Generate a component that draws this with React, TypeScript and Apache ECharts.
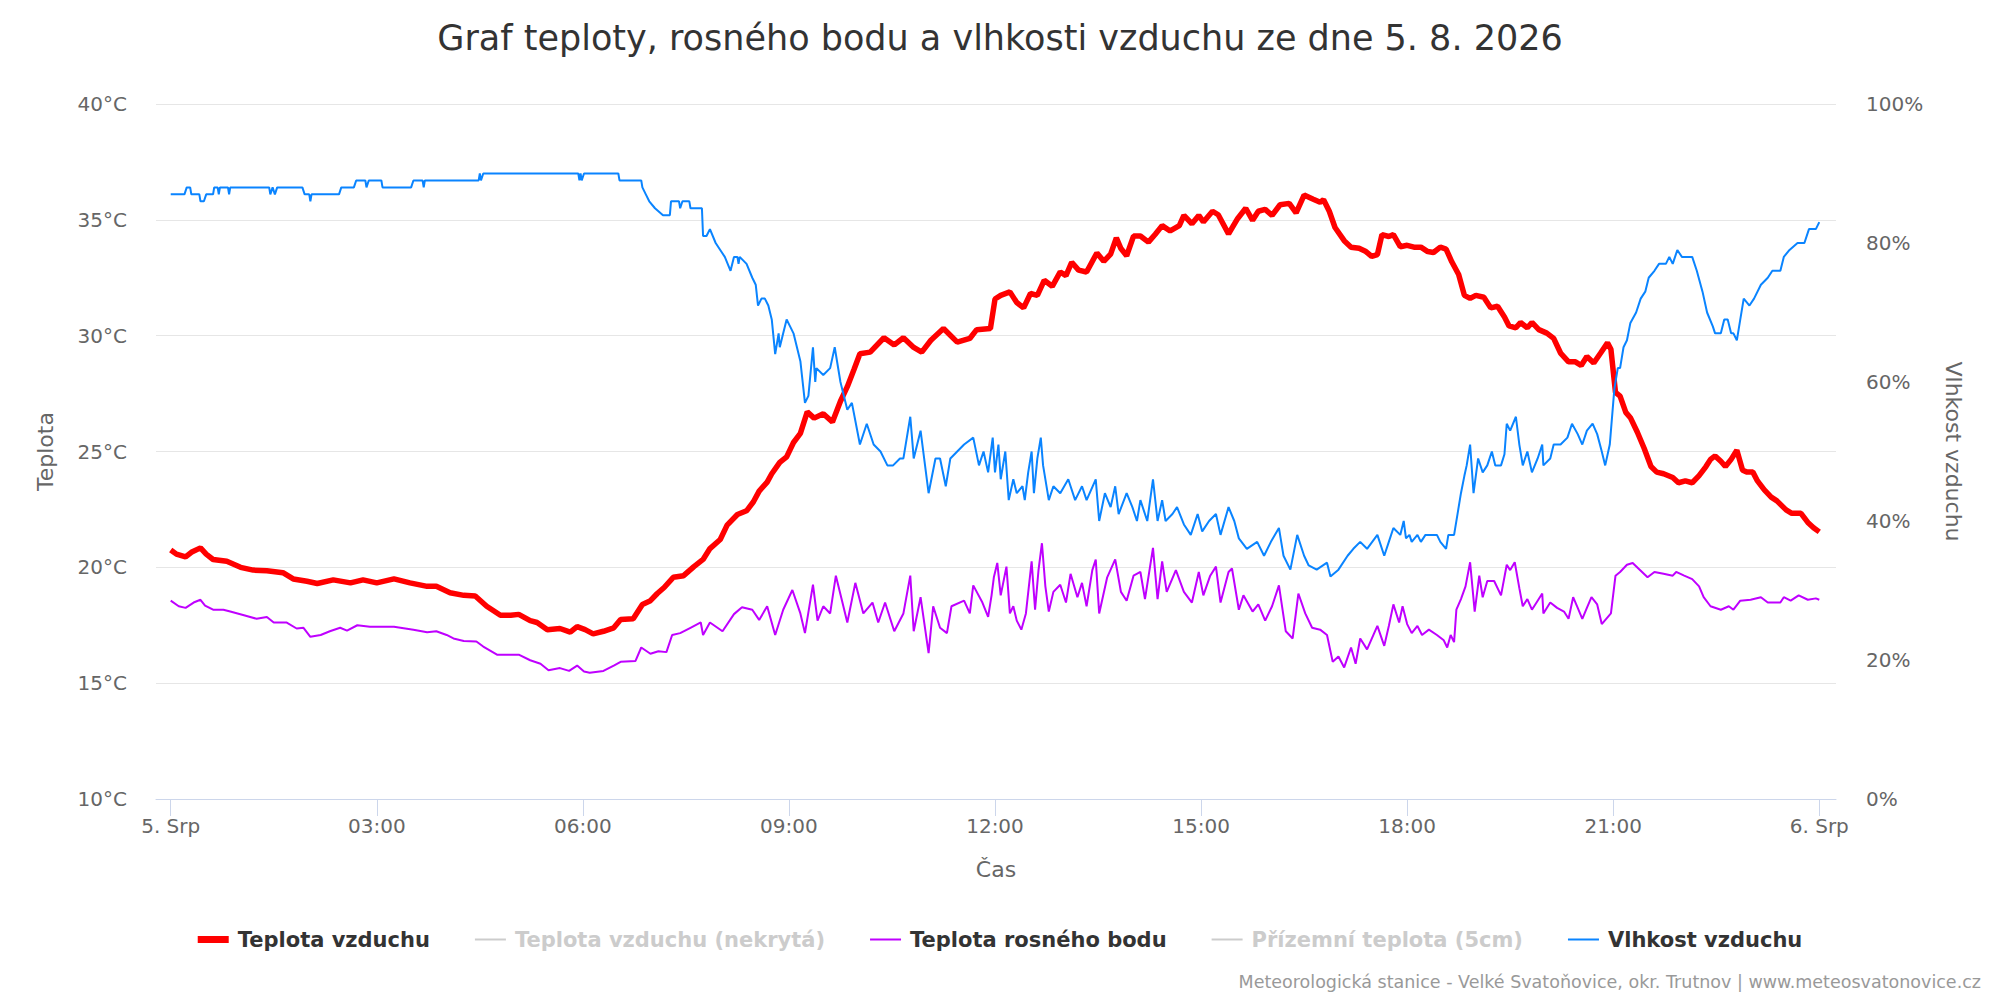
import React, { useEffect, useRef } from "react";
import * as echarts from "echarts";

const titleText = "Graf teploty, rosného bodu a vlhkosti vzduchu ze dne 5. 8. 2026";
const creditsText = "Meteorologická stanice - Velké Svatoňovice, okr. Trutnov | www.meteosvatonovice.cz";

const seriesNames = [
  "Teplota vzduchu",
  "Teplota vzduchu (nekrytá)",
  "Teplota rosného bodu",
  "Přízemní teplota (5cm)",
  "Vlhkost vzduchu",
];

// x values are minutes since 5. 8. 00:00
const xTickValues = [0, 180, 360, 540, 720, 900, 1080, 1260, 1440];
const xTickLabels = ["5. Srp", "03:00", "06:00", "09:00", "12:00", "15:00", "18:00", "21:00", "6. Srp"];

const tempTicks = [10, 15, 20, 25, 30, 35, 40];
const humTicks = [0, 20, 40, 60, 80, 100];

const airTemp: [number, number][] = [
  [0,20.75],[5,20.57],[13,20.45],[18,20.65],[26,20.84],[31,20.57],[37,20.34],[49,20.26],[61,20.0],[72,19.88],[84,19.85],[98,19.77],[107,19.5],[119,19.4],[128,19.3],[142,19.46],[157,19.33],[168,19.46],[180,19.33],[195,19.5],[209,19.33],[224,19.18],[232,19.18],[244,18.9],[256,18.79],[266,18.76],[276,18.32],[288,17.93],[297,17.93],[304,17.97],[314,17.7],[320,17.62],[329,17.31],[340,17.36],[349,17.2],[355,17.44],[362,17.31],[369,17.13],[378,17.24],[387,17.39],[393,17.75],[404,17.78],[412,18.4],[419,18.56],[425,18.87],[431,19.13],[439,19.57],[448,19.64],[457,20.03],[465,20.34],[471,20.81],[480,21.2],[486,21.82],[495,22.28],[503,22.44],[509,22.83],[514,23.29],[521,23.68],[525,24.04],[532,24.53],[538,24.77],[544,25.39],[550,25.78],[556,26.71],[562,26.44],[570,26.63],[578,26.27],[585,27.17],[591,27.8],[597,28.56],[602,29.22],[611,29.29],[623,29.91],[632,29.6],[640,29.91],[649,29.49],[656,29.29],[664,29.8],[675,30.31],[687,29.72],[698,29.88],[704,30.26],[716,30.31],[720,31.58],[725,31.74],[733,31.89],[739,31.43],[745,31.2],[751,31.82],[757,31.74],[763,32.39],[770,32.13],[777,32.75],[782,32.59],[787,33.17],[793,32.83],[800,32.75],[809,33.57],[815,33.21],[821,33.52],[826,34.22],[830,33.76],[835,33.45],[841,34.3],[847,34.3],[854,34.04],[860,34.38],[866,34.75],[873,34.52],[881,34.75],[885,35.19],[892,34.83],[898,35.19],[902,34.91],[910,35.37],[915,35.22],[924,34.39],[932,35.06],[939,35.5],[945,34.98],[950,35.37],[956,35.45],[962,35.19],[969,35.65],[977,35.71],[983,35.3],[990,36.07],[998,35.89],[1004,35.76],[1007,35.87],[1012,35.37],[1017,34.67],[1025,34.1],[1031,33.82],[1038,33.77],[1044,33.63],[1049,33.42],[1054,33.5],[1058,34.36],[1064,34.28],[1068,34.36],[1074,33.84],[1080,33.9],[1086,33.82],[1092,33.82],[1098,33.63],[1103,33.59],[1109,33.82],[1114,33.74],[1119,33.19],[1125,32.64],[1130,31.74],[1135,31.61],[1140,31.74],[1147,31.66],[1153,31.2],[1159,31.27],[1165,30.81],[1169,30.42],[1175,30.34],[1179,30.57],[1185,30.34],[1189,30.57],[1195,30.26],[1202,30.11],[1208,29.88],[1214,29.25],[1221,28.87],[1227,28.87],[1232,28.71],[1237,29.1],[1243,28.82],[1249,29.25],[1255,29.69],[1258,29.41],[1262,27.55],[1266,27.39],[1271,26.69],[1275,26.46],[1281,25.84],[1287,25.14],[1293,24.35],[1298,24.11],[1304,24.04],[1312,23.88],[1317,23.65],[1323,23.73],[1329,23.65],[1335,23.96],[1341,24.35],[1345,24.66],[1349,24.81],[1354,24.58],[1358,24.35],[1363,24.66],[1368,25.05],[1373,24.19],[1377,24.11],[1382,24.11],[1386,23.73],[1392,23.34],[1398,23.03],[1403,22.87],[1411,22.48],[1416,22.33],[1424,22.33],[1430,21.94],[1435,21.71],[1440,21.53],
];

const dewPoint: [number, number][] = [
  [0,18.56],[7,18.32],[13,18.25],[20,18.48],[26,18.6],[30,18.35],[37,18.17],[46,18.17],[52,18.09],[64,17.93],[75,17.78],[84,17.86],[90,17.62],[101,17.62],[110,17.36],[116,17.39],[122,17.0],[131,17.08],[139,17.24],[148,17.39],[154,17.27],[163,17.5],[174,17.44],[195,17.44],[212,17.31],[224,17.2],[232,17.24],[241,17.08],[247,16.93],[256,16.82],[267,16.8],[273,16.58],[285,16.23],[297,16.23],[304,16.23],[314,15.99],[323,15.84],[330,15.56],[340,15.65],[348,15.53],[355,15.76],[361,15.5],[366,15.45],[378,15.53],[387,15.76],[393,15.92],[406,15.96],[411,16.54],[419,16.27],[426,16.38],[433,16.34],[438,17.08],[445,17.16],[454,17.39],[463,17.62],[465,17.08],[471,17.62],[482,17.24],[492,17.98],[499,18.28],[508,18.17],[514,17.73],[521,18.32],[528,17.08],[535,18.17],[543,19.02],[550,18.01],[554,17.16],[561,19.25],[565,17.7],[570,18.32],[576,18.01],[581,19.64],[586,18.63],[591,17.62],[598,19.33],[605,18.01],[613,18.48],[618,17.62],[624,18.48],[632,17.24],[640,18.01],[646,19.64],[649,17.24],[655,18.71],[662,16.3],[666,18.32],[672,17.39],[678,17.16],[682,18.32],[693,18.56],[698,18.01],[701,19.22],[709,18.48],[714,17.86],[717,18.79],[719,19.57],[722,20.19],[725,18.79],[730,20.03],[733,18.01],[736,18.32],[739,17.7],[743,17.31],[747,18.01],[752,20.26],[755,18.17],[758,19.88],[761,21.04],[764,19.18],[767,18.09],[771,18.94],[777,19.25],[782,18.48],[786,19.72],[792,18.71],[796,19.33],[800,18.32],[805,19.88],[808,20.34],[811,18.01],[818,19.57],[825,20.34],[830,18.94],[835,18.56],[841,19.64],[847,19.8],[851,18.63],[858,20.84],[862,18.63],[866,20.26],[870,18.94],[878,19.88],[885,18.94],[892,18.48],[898,19.8],[902,18.79],[908,19.64],[913,20.03],[917,18.48],[924,19.8],[927,19.95],[933,18.17],[937,18.79],[945,18.09],[950,18.4],[956,17.7],[962,18.32],[968,19.22],[974,17.24],[980,16.93],[985,18.87],[991,18.01],[997,17.39],[1004,17.31],[1010,17.08],[1015,15.92],[1020,16.15],[1025,15.68],[1031,16.54],[1035,15.84],[1039,16.93],[1045,16.46],[1054,17.47],[1060,16.61],[1064,17.47],[1068,18.4],[1073,17.62],[1076,18.32],[1080,17.55],[1084,17.16],[1089,17.47],[1093,17.08],[1099,17.31],[1106,17.08],[1112,16.85],[1115,16.54],[1118,17.08],[1121,16.77],[1123,18.17],[1127,18.63],[1131,19.18],[1135,20.22],[1139,18.09],[1143,19.64],[1146,18.71],[1150,19.41],[1156,19.41],[1162,18.79],[1167,20.11],[1170,19.88],[1174,20.22],[1178,19.1],[1181,18.32],[1185,18.63],[1189,18.17],[1194,18.56],[1198,18.87],[1199,18.01],[1205,18.48],[1211,18.25],[1217,18.09],[1221,17.78],[1225,18.71],[1229,18.25],[1233,17.78],[1237,18.25],[1241,18.71],[1246,18.4],[1250,17.55],[1258,18.01],[1262,19.64],[1266,19.8],[1272,20.11],[1277,20.19],[1282,19.95],[1290,19.57],[1296,19.8],[1304,19.72],[1312,19.64],[1315,19.8],[1322,19.64],[1329,19.49],[1335,19.18],[1339,18.71],[1345,18.32],[1354,18.17],[1361,18.32],[1365,18.17],[1371,18.56],[1380,18.6],[1389,18.71],[1395,18.48],[1406,18.48],[1409,18.71],[1415,18.56],[1422,18.79],[1430,18.6],[1437,18.66],[1440,18.6],
];

const humidity: [number, number][] = [
  [0,87],[12,87],[14,88],[17,88],[18,87],[25,87],[26,86],[29,86],[31,87],[37,87],[38,88],[41,88],[42,87],[43,88],[50,88],[51,87],[52,88],[86,88],[87,87],[89,88],[91,87],[93,88],[115,88],[117,87],[121,87],[122,86],[123,87],[147,87],[149,88],[160,88],[162,89],[170,89],[171,88],[173,89],[184,89],[185,88],[210,88],[212,89],[220,89],[221,88],[222,89],[269,89],[270,90],[271,89],[273,90],[356,90],[357,89],[358,90],[359,89],[361,90],[391,90],[392,89],[411,89],[412,88],[415,87],[418,86],[423,85],[430,84],[436,84],[437,86],[444,86],[445,85],[447,86],[453,86],[454,85],[464,85],[465,81],[468,81],[471,82],[476,80],[480,79],[484,78],[489,76],[492,78],[495,78],[496,77],[497,78],[503,77],[508,75],[511,74],[513,71],[516,72],[519,72],[522,71],[525,69],[528,64],[531,67],[532,65],[535,67],[538,69],[541,68],[544,67],[550,63],[554,57],[557,58],[561,65],[563,60],[564,62],[570,61],[576,62],[580,65],[585,60],[591,56],[595,57],[602,51],[608,54],[614,51],[620,50],[626,48],[631,48],[637,49],[640,49],[646,55],[649,49],[655,53],[662,44],[668,49],[672,49],[677,45],[681,49],[693,51],[701,52],[706,48],[710,50],[714,47],[718,52],[720,47],[723,51],[725,46],[729,50],[732,43],[736,46],[739,44],[744,45],[746,43],[749,47],[752,50],[754,44],[757,49],[760,52],[762,48],[767,43],[771,45],[777,44],[784,46],[790,43],[796,45],[800,43],[808,46],[811,40],[816,44],[821,42],[825,45],[828,41],[835,44],[840,42],[844,40],[847,43],[853,40],[858,46],[862,40],[866,43],[869,40],[875,41],[879,42],[885,39.5],[891,38],[897,41],[901,38.5],[907,40],[913,41],[917,38],[924,42],[929,40],[933,37.5],[940,36],[949,37],[955,35],[961,37],[968,39],[972,35],[978,33],[984,38],[990,35],[994,33.6],[1001,33],[1010,34],[1013,32],[1020,33],[1028,35],[1033,36],[1039,37],[1045,36],[1054,38],[1060,35],[1064,37],[1068,39],[1074,38],[1077,40],[1079,37.5],[1082,38],[1084,37],[1089,38],[1092,37],[1096,38],[1106,38],[1109,37],[1114,36],[1116,38],[1121,38],[1124,41],[1127,44],[1130,46.5],[1132,48],[1135,51],[1138,44],[1142,49],[1146,47],[1150,48],[1154,50],[1157,48],[1162,48],[1165,49.6],[1167,54],[1170,53],[1175,55],[1178,51],[1181,48],[1185,50],[1189,47],[1194,49],[1198,51],[1199,48],[1205,49],[1208,51],[1214,51],[1220,52],[1224,54],[1229,52.5],[1233,51],[1237,53],[1242,54],[1246,52.5],[1250,50],[1253,48],[1257,51],[1261,59],[1264,62],[1266,62],[1269,65],[1272,66],[1275,68.5],[1280,70],[1284,72],[1288,73],[1291,75],[1296,76],[1300,77],[1306,77],[1309,78],[1312,77],[1316,79],[1320,78],[1329,78],[1333,76],[1338,73],[1342,70],[1347,68],[1349,67],[1354,67],[1357,69],[1360,69],[1363,67],[1365,67],[1368,66],[1371,69],[1374,72],[1379,71],[1383,72],[1389,74],[1395,75],[1399,76],[1406,76],[1409,78],[1414,79],[1421,80],[1427,80],[1431,82],[1437,82],[1440,83],
];

const uncoveredTemp: [number, number][] = [];
const groundTemp: [number, number][] = [];

const FONT = "'DejaVu Sans', Verdana, sans-serif";
const thickIcon = "path://M0,0L0,0M35,14L35,14M0,3.5H31V10.5H0Z";
const thinIcon = "path://M0,0L0,0M35,14L35,14M0,6H31V8H0Z";

export default function App() {
  const ref = useRef<HTMLDivElement>(null);
  useEffect(() => {
    if (!ref.current) return;
    const chart = echarts.init(ref.current, null, { renderer: "svg" });
    const option: any = {
      animation: false,
      backgroundColor: "#ffffff",
      textStyle: { fontFamily: FONT },
      title: {
        text: titleText,
        left: "center",
        top: 15,
        textStyle: { fontFamily: FONT, fontSize: 35, fontWeight: "normal", color: "#333333" },
      },
      legend: {
        left: "center",
        top: 924,
        itemWidth: 35,
        itemHeight: 14,
        itemGap: 45,
        inactiveColor: "#cccccc",
        itemStyle: { borderWidth: 0 },
        textStyle: { fontFamily: FONT, fontSize: 21, fontWeight: "bold", color: "#333333" },
        selected: { [seriesNames[1]]: false, [seriesNames[3]]: false },
        data: [
          { name: seriesNames[0], icon: thickIcon },
          { name: seriesNames[1], icon: thinIcon },
          { name: seriesNames[2], icon: thinIcon },
          { name: seriesNames[3], icon: thinIcon },
          { name: seriesNames[4], icon: thinIcon },
        ],
      },
      graphic: [
        {
          type: "text",
          right: 19,
          top: 973,
          style: { text: creditsText, fill: "#999999", fontSize: 17.5, fontFamily: FONT },
        },
      ],
      grid: { left: 156, right: 164, top: 104, bottom: 201 },
      xAxis: {
        type: "value",
        min: -12.85,
        max: 1454.6,
        name: "Čas",
        nameLocation: "middle",
        nameGap: 59,
        nameTextStyle: { color: "#666666", fontSize: 22, fontFamily: FONT },
        axisLine: { show: true, lineStyle: { color: "#ccd6eb", width: 1 } },
        axisTick: { show: true, customValues: xTickValues, length: 17, lineStyle: { color: "#ccd6eb" } },
        axisLabel: {
          customValues: xTickValues,
          color: "#666666",
          fontSize: 20,
          margin: 17,
          fontFamily: FONT,
          formatter: (v: number) => {
            const i = xTickValues.indexOf(Math.round(v));
            return i >= 0 ? xTickLabels[i] : "";
          },
        },
        splitLine: { show: false },
      },
      yAxis: [
        {
          type: "value",
          min: tempTicks[0],
          max: tempTicks[tempTicks.length - 1],
          interval: 5,
          name: "Teplota",
          nameLocation: "middle",
          nameGap: 100,
          nameTextStyle: { color: "#666666", fontSize: 22, fontFamily: FONT },
          axisLine: { show: false },
          axisTick: { show: false },
          axisLabel: { formatter: "{value}°C", color: "#666666", fontSize: 20, margin: 29, fontFamily: FONT },
          splitLine: { show: true, lineStyle: { color: "#e6e6e6", width: 1 } },
        },
        {
          type: "value",
          min: humTicks[0],
          max: humTicks[humTicks.length - 1],
          interval: 20,
          position: "right",
          name: "Vlhkost vzduchu",
          nameLocation: "middle",
          nameRotate: -90,
          nameGap: 106,
          nameTextStyle: { color: "#666666", fontSize: 22, fontFamily: FONT },
          axisLine: { show: false },
          axisTick: { show: false },
          axisLabel: { formatter: "{value}%", color: "#666666", fontSize: 20, margin: 30, fontFamily: FONT },
          splitLine: { show: false },
        },
      ],
      series: [
        {
          name: seriesNames[0], type: "line", data: airTemp, yAxisIndex: 0, showSymbol: false,
          color: "#ff0000", lineStyle: { width: 5.5, color: "#ff0000" }, z: 2,
        },
        {
          name: seriesNames[1], type: "line", data: uncoveredTemp, yAxisIndex: 0, showSymbol: false,
          color: "#999999", lineStyle: { width: 2 }, z: 2,
        },
        {
          name: seriesNames[2], type: "line", data: dewPoint, yAxisIndex: 0, showSymbol: false,
          color: "#bf00ff", lineStyle: { width: 2, color: "#bf00ff" }, z: 3,
        },
        {
          name: seriesNames[3], type: "line", data: groundTemp, yAxisIndex: 0, showSymbol: false,
          color: "#999999", lineStyle: { width: 2 }, z: 3,
        },
        {
          name: seriesNames[4], type: "line", data: humidity, yAxisIndex: 1, showSymbol: false,
          color: "#0a84ff", lineStyle: { width: 2, color: "#0a84ff" }, z: 4,
        },
      ],
    };
    chart.setOption(option);
    return () => chart.dispose();
  }, []);
  return (
    <div
      ref={ref}
      style={{ position: "absolute", left: 0, top: 0, width: 2000, height: 1000 }}
    />
  );
}
